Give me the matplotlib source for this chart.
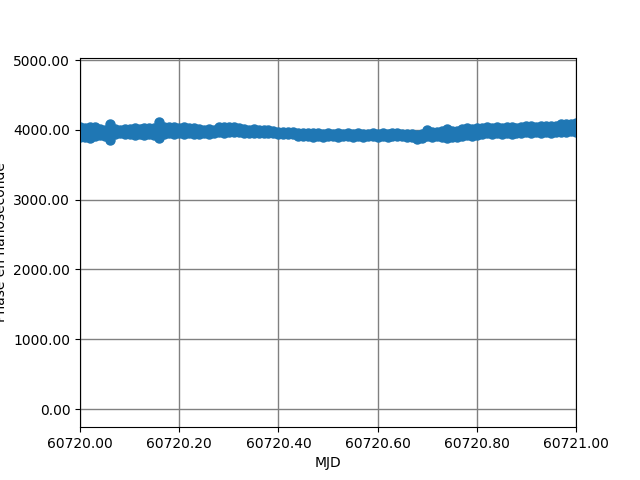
import matplotlib
matplotlib.use("Agg")
import matplotlib.pyplot as plt
from matplotlib.ticker import FormatStrFormatter
import numpy as np

mjd_start = 60720.0
# sampling offsets in days from mjd_start
offsets = [i / 100 for i in range(101)]

# phase in ns: upper, middle and lower points of the band at each sample
phase_hi = [4040, 4030, 4045, 4035, 4005, 4000, 4090, 4010, 4000, 4005,
            4015, 4020, 4010, 4020, 4025, 4030, 4115, 4045, 4035, 4040,
            4030, 4035, 4030, 4025, 4005, 4000, 4005, 4000, 4035, 4040,
            4035, 4040, 4030, 4005, 4000, 4005, 4000, 3995, 4000, 3990,
            3975, 3975, 3970, 3975, 3960, 3960, 3955, 3960, 3950, 3945,
            3950, 3945, 3950, 3945, 3950, 3945, 3950, 3945, 3945, 3950,
            3945, 3950, 3945, 3950, 3955, 3945, 3940, 3935, 3930, 3945,
            4000, 3975, 3970, 3980, 4005, 3990, 3985, 4015, 4020, 4015,
            4020, 4030, 4035, 4030, 4035, 4030, 4040, 4035, 4030, 4045,
            4050, 4055, 4045, 4050, 4055, 4050, 4060, 4085, 4090, 4080,
            4095]
phase_mid = [3965, 3970, 3960, 3970, 3960, 3955, 3970, 3975, 3975, 3975,
             3975, 3975, 3970, 3975, 3980, 3980, 4000, 3995, 3990, 3995,
             3990, 3990, 3990, 3985, 3975, 3975, 3975, 3975, 4000, 4000,
             4000, 4005, 3995, 3985, 3980, 3980, 3980, 3975, 3980, 3970,
             3960, 3960, 3955, 3955, 3935, 3930, 3930, 3930, 3925, 3925,
             3930, 3925, 3920, 3925, 3930, 3925, 3925, 3920, 3925, 3930,
             3925, 3925, 3920, 3925, 3930, 3925, 3920, 3915, 3905, 3915,
             3950, 3940, 3935, 3940, 3945, 3940, 3945, 3965, 3970, 3965,
             3970, 3985, 3990, 3990, 3990, 3985, 3995, 3990, 3990, 4000,
             4005, 4010, 4005, 4005, 4010, 4005, 4015, 4030, 4030, 4030,
             4035]
phase_lo = [3895, 3900, 3890, 3905, 3920, 3915, 3850, 3945, 3950, 3945,
            3935, 3930, 3935, 3930, 3935, 3925, 3880, 3945, 3950, 3945,
            3950, 3945, 3950, 3945, 3945, 3950, 3945, 3950, 3965, 3960,
            3965, 3970, 3965, 3960, 3960, 3955, 3960, 3955, 3960, 3950,
            3945, 3945, 3940, 3935, 3910, 3905, 3905, 3900, 3905, 3900,
            3910, 3905, 3900, 3905, 3910, 3900, 3905, 3900, 3905, 3910,
            3900, 3905, 3900, 3905, 3910, 3905, 3900, 3895, 3875, 3890,
            3905, 3900, 3905, 3895, 3890, 3895, 3900, 3915, 3920, 3915,
            3925, 3945, 3950, 3945, 3950, 3945, 3950, 3945, 3950, 3960,
            3965, 3960, 3965, 3960, 3965, 3960, 3970, 3975, 3970, 3980,
            3975]

mjd = np.array(offsets) + mjd_start
x = np.concatenate([mjd, mjd, mjd])
y = np.concatenate([phase_hi, phase_mid, phase_lo])

fig = plt.figure(figsize=(6.4, 4.8), dpi=100)
ax = plt.gca()
plt.plot(x, y, 'o', markersize=6.5)
plt.grid(color='gray', linewidth=1)
plt.xlim(60720.0, 60721.0)
plt.ylim(-260, 5035)
ax.set_yticks([0, 1000, 2000, 3000, 4000, 5000])
ax.xaxis.set_major_formatter(FormatStrFormatter('%.2f'))
ax.yaxis.set_major_formatter(FormatStrFormatter('%.2f'))
plt.xlabel('MJD')
plt.ylabel('Phase en nanoseconde')
plt.savefig('out.png')
